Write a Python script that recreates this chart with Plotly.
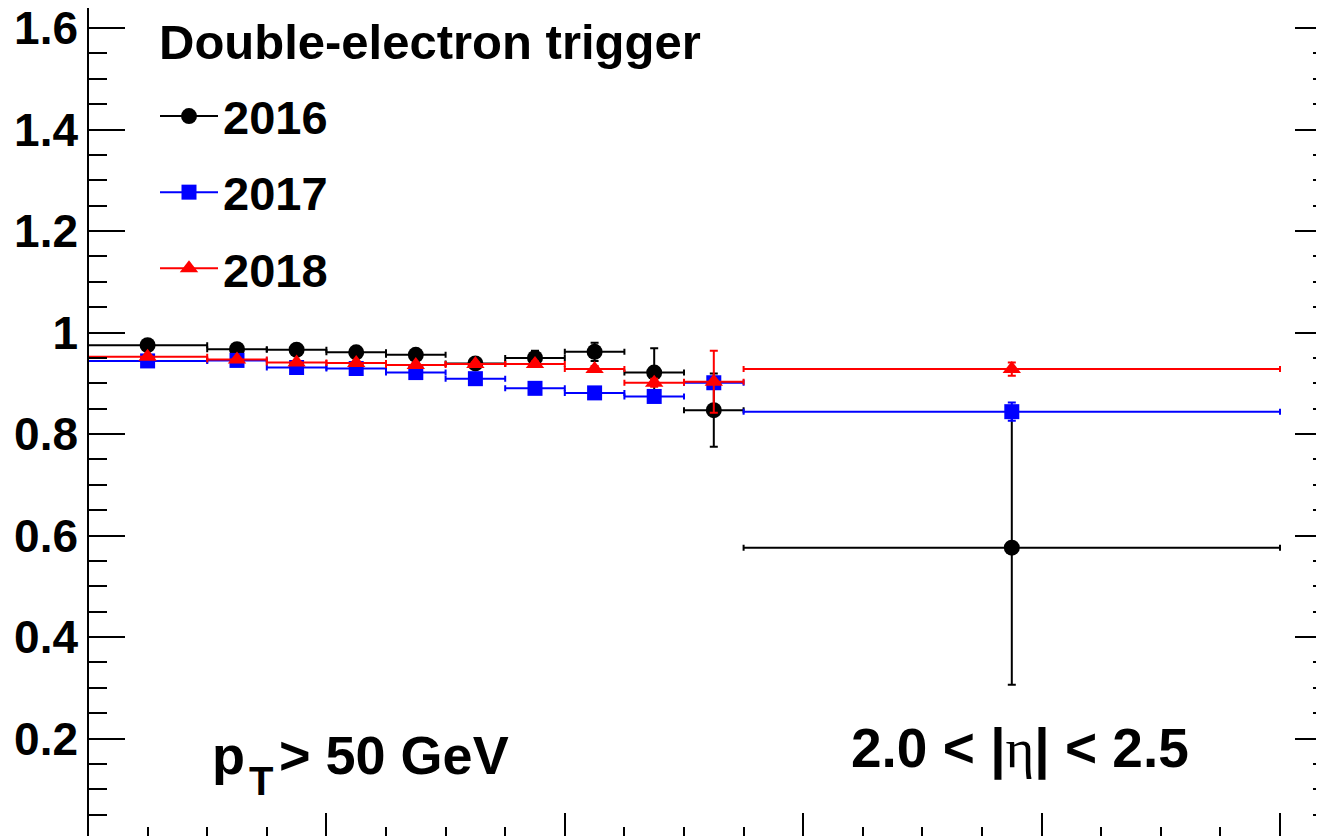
import plotly.graph_objects as go

# ---- data ----
bin_edges = [0, 10, 15, 20, 25, 30, 35, 40, 45, 50, 55, 100]
years = ["2016", "2017", "2018"]
eff_2016 = [0.975, 0.967, 0.966, 0.961, 0.956, 0.939, 0.950, 0.962, 0.921, 0.847, 0.576]
err_2016 = [0.004, 0.004, 0.004, 0.005, 0.005, 0.006, 0.014, 0.018, 0.048, 0.072, 0.270]
eff_2017 = [0.944, 0.945, 0.931, 0.929, 0.921, 0.909, 0.890, 0.881, 0.874, 0.901, 0.844]
err_2017 = [0.003, 0.003, 0.003, 0.003, 0.004, 0.004, 0.004, 0.005, 0.006, 0.010, 0.018]
eff_2018 = [0.952, 0.947, 0.941, 0.940, 0.936, 0.938, 0.938, 0.928, 0.901, 0.903, 0.928]
err_2018 = [0.003, 0.003, 0.003, 0.003, 0.004, 0.004, 0.005, 0.006, 0.008, 0.061, 0.013]
y_tick_vals = [0.2, 0.4, 0.6, 0.8, 1.0, 1.2, 1.4, 1.6]
y_tick_text = ["0.2", "0.4", "0.6", "0.8", "1", "1.2", "1.4", "1.6"]

centers = [(a + b) / 2 for a, b in zip(bin_edges[:-1], bin_edges[1:])]
half_w = [(b - a) / 2 for a, b in zip(bin_edges[:-1], bin_edges[1:])]

FONT = "Liberation Sans, Arial, Helvetica, sans-serif"
W, H = 1324, 836
OFF = 8            # browser body margin: the figure starts 8 px right / down in the page
ML = 88 - OFF      # plot area starts at page x = 88
PW = W - ML        # plot width (right frame slightly past the window, like the cropped reference)
PH = H             # plot height

series = [
    (years[0], eff_2016, err_2016, "black", "circle", 16),
    (years[1], eff_2017, err_2017, "#0000ff", "square", 15),
    (years[2], eff_2018, err_2018, "#ff0000", "triangle-up", 16),
]

fig = go.Figure()
for name, vals, errs, col, sym, size in series:
    fig.add_trace(go.Scatter(
        x=centers, y=vals, mode="markers", showlegend=False, name=name,
        marker=dict(color=col, symbol=sym, size=size, line=dict(width=0)),
        error_x=dict(type="data", array=half_w, symmetric=True, color=col, thickness=2, width=3),
        error_y=dict(type="data", array=errs, symmetric=True, color=col, thickness=2, width=4),
    ))
# legend entries (line + marker look of the ROOT legend)
for name, vals, errs, col, sym, size in series:
    fig.add_trace(go.Scatter(
        x=[None], y=[None], mode="lines+markers", name=name, legendgroup=name,
        line=dict(color=col, width=2),
        marker=dict(color=col, symbol=sym, size=size, line=dict(width=0)),
    ))

# page pixel -> paper coordinates
def px_x(p):
    return (p - OFF - ML) / PW

def px_y(p):
    return (H - (p - OFF)) / PH

# page pixel -> data coordinates (for axis ranges)
X_PER_PX = 100 / (1280 - 88)
Y_PER_PX = 1 / 507.5
x_range = [0, PW * X_PER_PX]
y_range = [1 - (OFF + H - 332.5) * Y_PER_PX, 1 + (332.5 - OFF) * Y_PER_PX]

bold = dict(family=FONT, color="black", weight="bold")
annotations = [
    dict(text="Double-electron trigger", x=px_x(157), y=px_y(42), xanchor="left",
         yanchor="middle", font=dict(size=49, **bold)),
    dict(text="p", x=px_x(210), y=px_y(755), xanchor="left", yanchor="middle",
         font=dict(size=54, **bold)),
    dict(text="T", x=px_x(247), y=px_y(781), xanchor="left", yanchor="middle",
         font=dict(size=40, **bold)),
    dict(text="> 50 GeV", x=px_x(277), y=px_y(755), xanchor="left", yanchor="middle",
         font=dict(size=54, **bold)),
    dict(text="2.0 < |<span style=\"font-family:'Liberation Serif', 'DejaVu Serif', serif;font-weight:normal\">η</span>| < 2.5",
         x=px_x(1020), y=px_y(748), xanchor="center", yanchor="middle",
         font=dict(size=55, **bold)),
]
for a in annotations:
    a.update(xref="paper", yref="paper", showarrow=False)

fig.update_layout(
    width=W, height=H,
    margin=dict(l=ML, r=0, t=0, b=0, pad=0, autoexpand=False),
    paper_bgcolor="white", plot_bgcolor="white",
    annotations=annotations,
    shapes=[dict(type="line", xref="paper", yref="paper", x0=0, x1=0, y0=0, y1=1,
                 line=dict(color="black", width=2))],
    legend=dict(
        xref="paper", yref="paper", x=px_x(155), y=px_y(79),
        xanchor="left", yanchor="top",
        bgcolor="rgba(0,0,0,0)", borderwidth=0,
        font=dict(size=47, **bold),
        tracegroupgap=12, traceorder="grouped", itemwidth=58,
    ),
    xaxis=dict(
        range=x_range, showgrid=False, zeroline=False, showline=False,
        ticks="inside", tickvals=[0, 20, 40, 60, 80, 100], ticklen=31, tickwidth=2,
        tickcolor="black", showticklabels=False, mirror=False,
        minor=dict(dtick=5, tick0=0, ticks="inside", ticklen=17, tickwidth=2, tickcolor="black"),
    ),
    yaxis=dict(
        range=y_range, showgrid=False, zeroline=False, showline=False,
        ticks="inside", tickvals=y_tick_vals, ticktext=y_tick_text, ticklen=37, tickwidth=2,
        tickcolor="black", mirror="ticks", ticklabelstandoff=9, ticklabeloverflow="allow",
        tickfont=dict(size=46, **bold),
        minor=dict(dtick=0.05, tick0=0, ticks="inside", ticklen=19, tickwidth=2, tickcolor="black"),
    ),
)

fig.write_html("out.html")
